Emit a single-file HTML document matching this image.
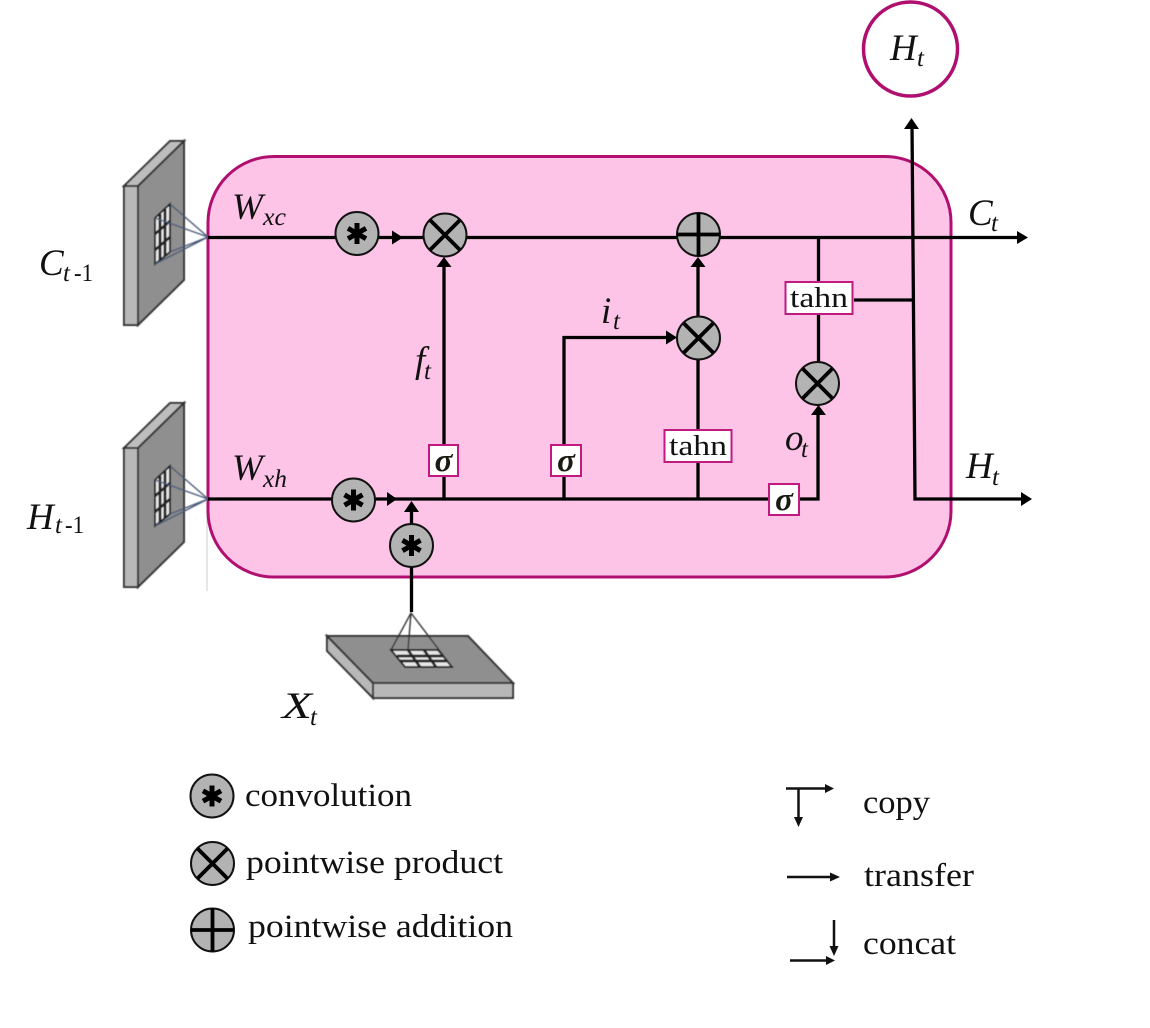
<!DOCTYPE html>
<html>
<head>
<meta charset="utf-8">
<style>
html,body{margin:0;padding:0;background:#fff;width:1150px;height:1028px;overflow:hidden}
svg{display:block}
text{font-family:"Liberation Serif",serif;fill:#111}
.i{font-style:italic;font-size:37px}
.s{font-style:italic;font-size:25px}
.n{font-size:25px}
.l{font-size:33px}
.t{font-size:28px}
.g{font-family:"Liberation Serif",serif;font-style:italic;font-weight:bold;font-size:33px;fill:#1a1a10}
</style>
</head>
<body>
<svg width="1150" height="1028" viewBox="0 0 1150 1028" xmlns="http://www.w3.org/2000/svg">
<defs>
<filter id="b" x="-5%" y="-5%" width="110%" height="110%"><feGaussianBlur stdDeviation="0.5"/></filter>
<g id="mapv" filter="url(#b)">
  <polygon points="124,186 170,141 184,141 138,186" fill="#bdbdbd" stroke="#333" stroke-width="2"/>
  <rect x="124" y="186" width="14" height="139" fill="#b8b8b8" stroke="#333" stroke-width="2"/>
  <polygon points="138,186 184,141 184,280 138,325" fill="#8f8f8f" stroke="#333" stroke-width="2"/>
  <polygon points="155,218 170,204 170,252 155,264" fill="#e8e8e8" stroke="#111" stroke-width="1.800"/>
  <path d="M160,214V260M165,209V256M155,234L170,221M155,250L170,237" stroke="#222" stroke-width="2.800" fill="none"/>
  <path d="M170,204L208,237L155,218M170,252L208,237L155,264" stroke="#4a5a78" stroke-width="1.400" fill="none"/>
</g>
<g id="conv">
  <circle r="21.500" fill="#b3b3b3" stroke="#111" stroke-width="2"/>
  <path d="M0,-10.500V10.500M-9,-5.200L9,5.200M-9,5.200L9,-5.200" stroke="#000" stroke-width="5" fill="none"/>
</g>
<g id="prod">
  <circle r="21.500" fill="#b3b3b3" stroke="#111" stroke-width="2"/>
  <path d="M-15,-15L15,15M-15,15L15,-15" stroke="#000" stroke-width="3.800" fill="none"/>
</g>
<g id="add">
  <circle r="21.500" fill="#b3b3b3" stroke="#111" stroke-width="2"/>
  <path d="M-21.500,0H21.500M0,-21.500V21.500" stroke="#000" stroke-width="3.800" fill="none"/>
</g>
</defs>

<rect width="1150" height="1028" fill="#fff"/>
<line x1="207" y1="500" x2="207" y2="591" stroke="#ccc" stroke-width="1"/>
<rect x="208" y="156.500" width="743" height="420.500" rx="66" ry="66" fill="#fdc4e8" stroke="#b00f70" stroke-width="3"/>

<use href="#mapv"/>
<use href="#mapv" y="262"/>

<!-- X_t block -->
<g filter="url(#b)">
  <polygon points="327,636 373,683 373,698 327,651" fill="#b8b8b8" stroke="#333" stroke-width="2"/>
  <rect x="373" y="683" width="140" height="15" fill="#b8b8b8" stroke="#333" stroke-width="2"/>
  <polygon points="327,636 468,636 513,683 373,683" fill="#8f8f8f" stroke="#333" stroke-width="2"/>
  <polygon points="391,650 438,650 452,667 405,667" fill="#e8e8e8" stroke="#111" stroke-width="1.800"/>
  <path d="M397,656H444M400,661H448M408,650L420,667M424,650L436,667" stroke="#222" stroke-width="2.800" fill="none"/>
  <path d="M391,650L411,613L452,667M411,613L408,650" stroke="#333" stroke-width="1.400" fill="none"/>
</g>

<!-- connectors -->
<g stroke="#000" stroke-width="3.300" fill="none">
  <path d="M208,237.500H1022"/>
  <path d="M208,499H818V410"/>
  <path d="M411.500,612V506"/>
  <path d="M444,499V262"/>
  <path d="M564,499V337.500H672"/>
  <path d="M698,499V262"/>
  <path d="M818.500,238V370"/>
  <path d="M854,300H912"/>
  <path d="M912,125L915,499H1024"/>
</g>
<g fill="#000">
  <polygon points="397,499 387,492 387,506"/>
  <polygon points="403,237.500 392,230.500 392,244.500"/>
  <polygon points="411.500,501 404,512 419,512"/>
  <polygon points="444,257 436.500,267 451.500,267"/>
  <polygon points="698,257 690.500,267 705.500,267"/>
  <polygon points="677,337.500 666,330.500 666,344.500"/>
  <polygon points="818.500,405 811,415 826,415"/>
  <polygon points="911.500,118 904,129 919,129"/>
  <polygon points="1028,237.500 1017,231 1017,244"/>
  <polygon points="1032,499 1021,492 1021,506"/>
</g>

<!-- operators -->
<use href="#conv" x="357" y="233.500"/>
<use href="#conv" x="353.500" y="500"/>
<use href="#conv" x="411.500" y="545.500"/>
<use href="#prod" x="445" y="235"/>
<use href="#add" x="698.500" y="234.500"/>
<use href="#prod" x="698.500" y="338"/>
<use href="#prod" x="817.500" y="383.500"/>

<!-- boxes -->
<g fill="#fff" stroke="#c01a80" stroke-width="2">
  <rect x="429" y="445" width="29" height="31"/>
  <rect x="551" y="445" width="30" height="31"/>
  <rect x="769" y="484" width="30" height="31"/>
  <rect x="664.500" y="430" width="67" height="32"/>
  <rect x="785.500" y="282" width="67" height="32"/>
</g>
<text class="g" x="443.500" y="471" text-anchor="middle">σ</text>
<text class="g" x="566" y="471" text-anchor="middle">σ</text>
<text class="g" x="784" y="510" text-anchor="middle">σ</text>
<text class="t" x="669" y="455" textLength="58" lengthAdjust="spacingAndGlyphs">tahn</text>
<text class="t" x="790" y="307" textLength="58" lengthAdjust="spacingAndGlyphs">tahn</text>

<!-- H_t circle -->
<circle cx="910.500" cy="49" r="47" fill="#fff" stroke="#b00f70" stroke-width="3.500"/>
<text class="i" x="890" y="60">H</text><text class="s" x="917" y="66">t</text>

<!-- math labels -->
<text class="i" x="39" y="275">C</text><text class="s" x="63" y="281">t</text><text class="n" x="74" y="281" textLength="19" lengthAdjust="spacingAndGlyphs">-1</text>
<text class="i" x="27" y="529">H</text><text class="s" x="55" y="533">t</text><text class="n" x="65" y="533" textLength="19" lengthAdjust="spacingAndGlyphs">-1</text>
<text class="i" x="232" y="219">W</text><text class="s" x="263" y="225" textLength="23" lengthAdjust="spacingAndGlyphs">xc</text>
<text class="i" x="232" y="480">W</text><text class="s" x="263" y="487" textLength="24" lengthAdjust="spacingAndGlyphs">xh</text>
<text class="i" x="968" y="225">C</text><text class="s" x="991" y="231">t</text>
<text class="i" x="966" y="478">H</text><text class="s" x="992" y="485">t</text>
<text class="i" x="415" y="372">f</text><text class="s" x="424" y="379">t</text>
<text class="i" x="601" y="323">i</text><text class="s" x="613" y="329">t</text>
<text class="i" x="785" y="450">o</text><text class="s" x="801" y="457">t</text>
<text class="i" x="282" y="718" textLength="30" lengthAdjust="spacingAndGlyphs">X</text><text class="s" x="310" y="725">t</text>

<!-- legend left -->
<use href="#conv" x="212" y="796"/>
<use href="#prod" x="212.500" y="863.500"/>
<use href="#add" x="212.500" y="930"/>
<text class="l" x="245" y="806" textLength="167" lengthAdjust="spacingAndGlyphs">convolution</text>
<text class="l" x="246" y="873" textLength="257" lengthAdjust="spacingAndGlyphs">pointwise product</text>
<text class="l" x="248" y="937" textLength="265" lengthAdjust="spacingAndGlyphs">pointwise addition</text>

<!-- legend right -->
<g stroke="#111" stroke-width="2.500" fill="none">
  <path d="M786,788.500H828M798.500,788.500V820"/>
  <path d="M787,877H834"/>
  <path d="M790,960.500H829M834,920V949"/>
</g>
<g fill="#111">
  <polygon points="834,788.500 825,784 825,793"/>
  <polygon points="798.500,827 794,817 803,817"/>
  <polygon points="840,877 830,872.500 830,881.500"/>
  <polygon points="835,960.500 826,956 826,965"/>
  <polygon points="834,956 829.500,946 838.500,946"/>
</g>
<text class="l" x="863" y="813" textLength="67" lengthAdjust="spacingAndGlyphs">copy</text>
<text class="l" x="864" y="886" textLength="110" lengthAdjust="spacingAndGlyphs">transfer</text>
<text class="l" x="863" y="954" textLength="93" lengthAdjust="spacingAndGlyphs">concat</text>
</svg>
</body>
</html>
